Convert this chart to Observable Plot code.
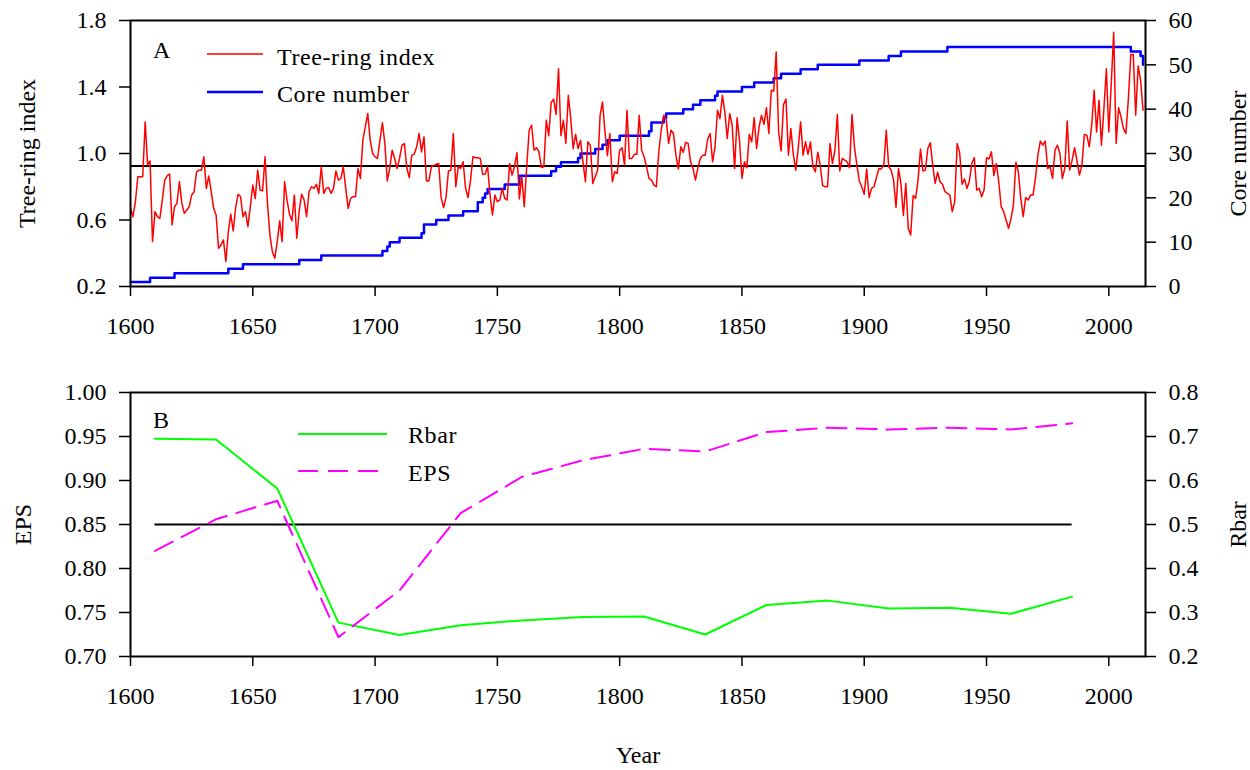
<!DOCTYPE html>
<html>
<head>
<meta charset="utf-8">
<script src="https://cdn.jsdelivr.net/npm/d3@7"></script>
<script src="https://cdn.jsdelivr.net/npm/@observablehq/plot@0.6"></script>
<style>
html, body { margin: 0; padding: 0; background: #fff; }
#chart { width: 1250px; height: 770px; position: relative; overflow: hidden; }
#chart svg { display: block; }
</style>
</head>
<body>
<div id="chart"></div>
<script>
// ---------------- DATA ----------------
const ringStartYear = 1600;
const ringIndex = [
  0.67, 0.62, 0.71, 0.86, 0.86, 0.86, 1.19, 0.93, 0.955, 0.47,
  0.65, 0.62, 0.61, 0.72, 0.84, 0.865, 0.877, 0.57, 0.68, 0.70,
  0.83, 0.70, 0.64, 0.66, 0.68, 0.75, 0.77, 0.89, 0.90, 0.90,
  0.98, 0.79, 0.865, 0.77, 0.67, 0.63, 0.43, 0.45, 0.48, 0.35,
  0.53, 0.635, 0.535, 0.675, 0.755, 0.74, 0.62, 0.65, 0.56, 0.68,
  0.81, 0.73, 0.90, 0.78, 0.775, 0.98, 0.70, 0.51, 0.41, 0.37,
  0.47, 0.595, 0.47, 0.83, 0.72, 0.635, 0.595, 0.75, 0.49, 0.66,
  0.755, 0.72, 0.62, 0.77, 0.80, 0.79, 0.815, 0.76, 0.92, 0.76,
  0.79, 0.795, 0.76, 0.79, 0.895, 0.84, 0.85, 0.92, 0.79, 0.67,
  0.73, 0.74, 0.74, 0.91, 0.85, 1.08, 1.16, 1.24, 1.08, 1.00,
  0.98, 0.97, 1.08, 1.185, 1.06, 0.835, 0.91, 1.02, 0.97, 0.91,
  0.97, 1.05, 1.06, 0.91, 0.855, 0.99, 0.995, 1.04, 1.12, 1.01,
  1.10, 0.835, 0.835, 0.92, 0.927, 0.935, 0.94, 0.735, 0.675, 0.735,
  0.895, 0.90, 1.12, 0.80, 0.92, 0.91, 0.95, 0.79, 0.735, 0.835,
  0.98, 0.975, 0.975, 0.97, 0.875, 0.877, 0.92, 0.75, 0.63, 0.75,
  0.71, 0.72, 0.79, 0.73, 0.72, 0.94, 0.87, 0.92, 1.005, 0.727,
  0.86, 0.68, 0.92, 1.14, 1.17, 1.02, 1.035, 1.01, 0.915, 0.92,
  1.20, 1.107, 1.307, 1.327, 1.235, 1.51, 1.107, 1.20, 1.06, 1.35,
  1.21, 1.03, 1.115, 1.03, 1.08, 0.95, 0.83, 1.07, 1.05, 0.82,
  0.86, 0.90, 1.23, 1.31, 1.13, 0.987, 1.12, 0.83, 0.89, 0.88,
  1.02, 1.035, 0.93, 1.26, 0.97, 0.97, 0.995, 0.995, 1.23, 1.02,
  0.98, 0.92, 0.85, 0.84, 0.81, 0.80, 1.01, 1.14, 1.23, 1.21,
  1.06, 1.14, 1.12, 0.99, 0.907, 1.04, 1.007, 1.067, 1.06, 0.95,
  0.91, 0.84, 0.915, 0.97, 0.99, 0.99, 1.087, 1.12, 0.95, 1.04,
  1.26, 1.21, 1.35, 1.25, 1.09, 1.24, 1.17, 0.91, 1.215, 1.08,
  0.85, 0.95, 0.915, 1.115, 1.07, 1.215, 1.03, 1.16, 1.23, 1.175,
  1.275, 1.12, 1.38, 1.375, 1.61, 1.13, 1.015, 1.295, 1.327, 0.99,
  1.15, 0.995, 0.90, 1.03, 1.19, 0.99, 1.07, 0.995, 1.07, 0.92,
  0.89, 1.007, 0.93, 0.807, 0.80, 0.80, 1.06, 0.94, 1.015, 1.235,
  0.895, 0.97, 0.96, 0.95, 0.915, 1.235, 1.04, 0.93, 0.835, 0.80,
  0.755, 0.907, 0.735, 0.79, 0.80, 0.855, 0.91, 0.907, 0.93, 1.14,
  0.92, 0.90, 0.84, 0.675, 0.91, 0.82, 0.627, 0.82, 0.55, 0.51,
  0.747, 0.73, 0.84, 1.027, 0.895, 0.90, 1.03, 1.065, 0.93, 0.82,
  0.887, 0.83, 0.815, 0.77, 0.76, 0.75, 0.65, 0.71, 1.06, 1.007,
  0.815, 0.847, 0.79, 0.835, 0.94, 0.975, 0.78, 0.79, 0.74, 0.78,
  0.975, 0.967, 1.01, 0.867, 0.94, 0.83, 0.68, 0.65, 0.60, 0.55,
  0.607, 0.69, 0.947, 0.89, 0.73, 0.62, 0.735, 0.72, 0.75, 0.75,
  0.85, 0.99, 1.075, 1.05, 1.075, 0.91, 0.92, 0.85, 1.02, 1.05,
  1.00, 0.85, 0.91, 1.195, 0.90, 0.96, 1.035, 0.955, 0.87, 0.93,
  1.115, 1.11, 1.04, 1.17, 1.38, 1.13, 1.32, 1.05, 1.27, 1.51,
  1.13, 1.42, 1.73, 1.06, 1.275, 1.22, 1.15, 1.12, 1.33, 1.595,
  1.595, 1.23, 1.527, 1.44, 1.26
];
const meanIndex = 0.925;

// core number: year at which the count changes, and the new count
const coreYears  = [1600, 1608, 1618, 1640, 1646, 1669, 1678, 1703, 1705, 1706, 1710, 1719, 1720, 1725, 1730, 1736, 1742, 1744, 1745, 1746, 1753, 1759, 1772, 1774, 1776, 1783, 1784, 1790, 1793, 1795, 1800, 1812, 1813, 1818, 1819, 1826, 1830, 1833, 1839, 1840, 1850, 1855, 1863, 1866, 1874, 1881, 1898, 1910, 1915, 1934, 2009, 2013, 2014];
const coreCounts = [1,    2,    3,    4,    5,    6,    7,    8,    9,    10,   11,   12,   14,   15,   16,   17,   19,   20,   21,   22,   23,   25,   26,   27,   28,   29,   30,   31,   32,   33,   34,   35,   37,   38,   39,   40,   41,   42,   43,   44,   45,   46,   47,   48,   49,   50,   51,   52,   53,   54,   53,   52,   50];

const statYears  = [1610, 1635, 1660, 1685, 1710, 1735, 1760, 1785, 1810, 1835, 1860, 1885, 1910, 1935, 1960, 1985];
const epsValues  = [0.820, 0.856, 0.877, 0.722, 0.775, 0.863, 0.904, 0.923, 0.936, 0.933, 0.955, 0.960, 0.958, 0.960, 0.958, 0.965];
const rbarValues = [0.695, 0.693, 0.582, 0.277, 0.249, 0.271, 0.282, 0.290, 0.291, 0.250, 0.317, 0.327, 0.309, 0.311, 0.297, 0.336];
const epsThreshold = 0.85;

const yearTicks  = [1600, 1650, 1700, 1750, 1800, 1850, 1900, 1950, 2000];
const indexTicks = [0.2, 0.6, 1.0, 1.4, 1.8];
const coreTicks  = [0, 10, 20, 30, 40, 50, 60];
const epsTicks   = [0.70, 0.75, 0.80, 0.85, 0.90, 0.95, 1.00];
const rbarTicks  = [0.2, 0.3, 0.4, 0.5, 0.6, 0.7, 0.8];

// ---------------- CHART ----------------
const FONT = "Liberation Serif";
const FS = 24;
const xDomain = [1600, 2015];

const ringData = ringIndex.map((v, i) => ({year: ringStartYear + i, value: v}));
const coreData = coreYears.map((y, i) => ({year: y, cores: coreCounts[i]}));
const statData = statYears.map((y, i) => ({year: y, eps: epsValues[i], rbar: rbarValues[i]}));

const coreToIndex = d3.scaleLinear().domain([0, 60]).range([0.2, 1.8]);
const rbarToEps = d3.scaleLinear().domain([0.2, 0.8]).range([0.70, 1.00]);

function legendMark(letter, items) {
  return (index, scales, values, dims) => {
    const g = d3.create("svg:g")
      .attr("font-family", FONT).attr("font-size", FS).attr("fill", "black")
      .attr("text-anchor", "start")
      .style("font-family", FONT).style("font-size", FS + "px");
    const x0 = dims.marginLeft, y0 = dims.marginTop;
    g.append("text").attr("x", x0 + 23).attr("y", y0 + letter.dy).text(letter.text);
    for (const it of items) {
      g.append("line")
        .attr("x1", x0 + it.x1).attr("x2", x0 + it.x2)
        .attr("y1", y0 + it.y).attr("y2", y0 + it.y)
        .attr("stroke", it.color).attr("stroke-width", it.width)
        .attr("stroke-dasharray", it.dash || null);
      g.append("text").attr("x", x0 + it.tx).attr("y", y0 + it.ty)
        .style("letter-spacing", "0.6px").text(it.label);
    }
    return g.node();
  };
}

const axisCommon = {fontSize: FS, fontFamily: FONT, strokeWidth: 1.5, label: null};
const labelCommon = {text: d => d, fontSize: FS, fontFamily: FONT, fill: "black", textAnchor: "middle", lineAnchor: "middle"};
const svgStyle = {fontFamily: FONT, fontSize: FS + "px", background: "white", color: "black"};

const topPlot = Plot.plot({
  width: 1250, height: 340,
  marginTop: 20, marginBottom: 54, marginLeft: 130, marginRight: 105,
  style: svgStyle,
  x: {domain: xDomain},
  y: {domain: [0.2, 1.8]},
  marks: [
    Plot.ruleY([meanIndex], {stroke: "black", strokeWidth: 2}),
    Plot.line(coreData, {x: "year", y: d => coreToIndex(d.cores), curve: "step-after", stroke: "#0000ff", strokeWidth: 2.5}),
    Plot.line(ringData, {x: "year", y: "value", stroke: "#ff0000", strokeWidth: 1.5}),
    Plot.frame({stroke: "black", strokeWidth: 2}),
    Plot.axisX(yearTicks, {...axisCommon, anchor: "bottom", tickSize: 10, tickPadding: 20, tickFormat: d => String(d)}),
    Plot.axisY(indexTicks, {...axisCommon, anchor: "left", tickSize: 11, tickPadding: 13, tickFormat: d3.format(".1f")}),
    Plot.axisY(coreTicks.map(coreToIndex), {...axisCommon, anchor: "right", tickSize: 10, tickPadding: 13, tickFormat: v => String(Math.round(coreToIndex.invert(v)))}),
    Plot.text(["Tree-ring index"], {...labelCommon, frameAnchor: "left", dx: -103, rotate: -90}),
    Plot.text(["Core number"], {...labelCommon, frameAnchor: "right", dx: 93, rotate: -90}),
    legendMark({text: "A", dy: 38}, [
      {label: "Tree-ring index", color: "#ff0000", width: 1.5, x1: 77, x2: 133, y: 34, tx: 147, ty: 45},
      {label: "Core number", color: "#0000ff", width: 2.5, x1: 77, x2: 133, y: 72, tx: 147, ty: 82}
    ])
  ]
});

const bottomPlot = Plot.plot({
  width: 1250, height: 430,
  marginTop: 52, marginBottom: 114, marginLeft: 130, marginRight: 105,
  style: svgStyle,
  x: {domain: xDomain},
  y: {domain: [0.70, 1.00]},
  marks: [
    Plot.ruleY([epsThreshold], {x1: d3.min(statYears), x2: d3.max(statYears), stroke: "black", strokeWidth: 2}),
    Plot.line(statData, {x: "year", y: d => rbarToEps(d.rbar), stroke: "#00ff00", strokeWidth: 2}),
    Plot.line(statData, {x: "year", y: "eps", stroke: "#ff00ff", strokeWidth: 2, strokeDasharray: "20,10"}),
    Plot.frame({stroke: "black", strokeWidth: 2}),
    Plot.axisX(yearTicks, {...axisCommon, anchor: "bottom", tickSize: 10, tickPadding: 20, tickFormat: d => String(d)}),
    Plot.axisY(epsTicks, {...axisCommon, anchor: "left", tickSize: 11, tickPadding: 13, tickFormat: d3.format(".2f")}),
    Plot.axisY(rbarTicks.map(rbarToEps), {...axisCommon, anchor: "right", tickSize: 10, tickPadding: 13, tickFormat: v => d3.format(".1f")(rbarToEps.invert(v))}),
    Plot.text(["EPS"], {...labelCommon, frameAnchor: "left", dx: -107, rotate: -90}),
    Plot.text(["Rbar"], {...labelCommon, frameAnchor: "right", dx: 93, rotate: -90}),
    Plot.text(["Year"], {...labelCommon, frameAnchor: "bottom", dy: 99}),
    legendMark({text: "B", dy: 36}, [
      {label: "Rbar", color: "#00ff00", width: 2, x1: 168, x2: 257, y: 42, tx: 278, ty: 51},
      {label: "EPS", color: "#ff00ff", width: 2, dash: "20,10", x1: 168, x2: 252, y: 79, tx: 278, ty: 89}
    ])
  ]
});

const chart = document.getElementById("chart");
chart.appendChild(topPlot);
chart.appendChild(bottomPlot);
</script>
</body>
</html>
